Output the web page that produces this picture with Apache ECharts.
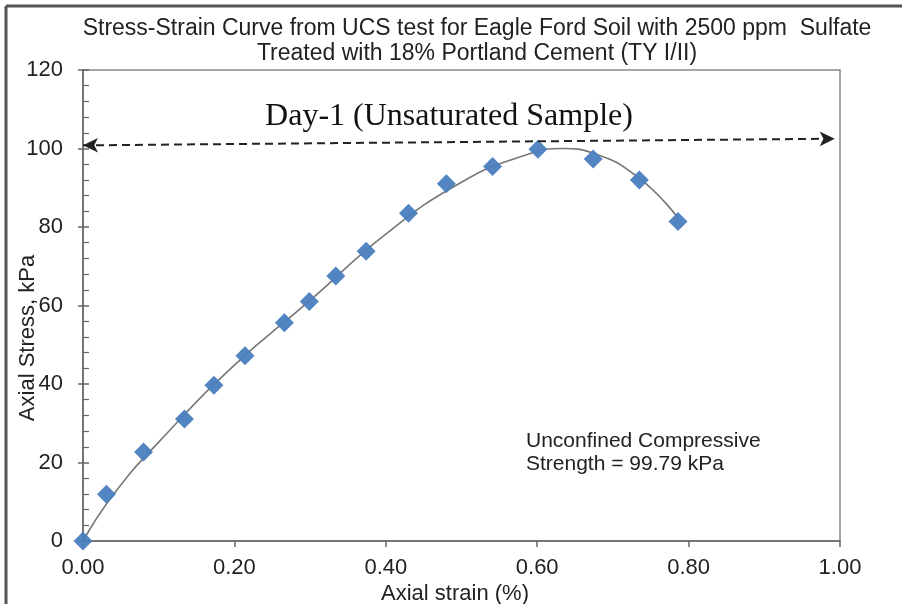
<!DOCTYPE html>
<html>
<head>
<meta charset="utf-8">
<script src="https://cdn.jsdelivr.net/npm/echarts@6/dist/echarts.min.js"></script>
<style>html,body{margin:0;padding:0;background:#fff}#c{width:902px;height:604px}</style>
</head>
<body>
<div id="c"></div>
<script>
// Measured test points (axial strain %, axial stress kPa)
const strain = [0, 0.031, 0.080, 0.134, 0.173, 0.214, 0.266, 0.299, 0.334, 0.374, 0.430, 0.480, 0.541, 0.601, 0.674, 0.735, 0.786];
const stress = [0, 11.9, 22.7, 31.1, 39.7, 47.2, 55.6, 61.0, 67.5, 73.8, 83.5, 91.0, 95.4, 99.79, 97.3, 92.0, 81.4];
// Fitted trend curve
const curveX = [0, 0.04, 0.10, 0.20, 0.30, 0.40, 0.50, 0.58, 0.634, 0.674, 0.735, 0.786];
const curveY = [0, 11.8, 25.2, 44.8, 61.3, 78.2, 91.4, 98.0, 100.0, 98.8, 92.4, 82.3];
// Dashed double arrow (start, end)
const arrowX = [0, 0.993];
const arrowY = [100.8, 102.5];
const xTicks = [0, 0.2, 0.4, 0.6, 0.8, 1.0];
const yTicks = [0, 20, 40, 60, 80, 100, 120];
const titleLines = ['Stress-Strain Curve from UCS test for Eagle Ford Soil with 2500 ppm  Sulfate', 'Treated with 18% Portland Cement (TY I/II)'];
const bannerText = 'Day-1 (Unsaturated Sample)';
const noteLines = ['Unconfined Compressive', 'Strength = 99.79 kPa'];

const chart = echarts.init(document.getElementById('c'));
const font = 'Liberation Sans, Arial, sans-serif';
const yBase = {
  type: 'value', min: yTicks[0], max: yTicks[yTicks.length - 1], interval: 20, position: 'left',
  splitLine: {show: false}
};
chart.setOption({
  animation: false,
  backgroundColor: '#fff',
  title: {
    text: titleLines.join('\n'),
    left: 472, top: 11, textAlign: 'center',
    textStyle: {fontFamily: font, fontSize: 23, fontWeight: 'normal', color: '#222', lineHeight: 25}
  },
  grid: {left: 83, right: 62, top: 70, bottom: 63, show: true, borderColor: '#888', borderWidth: 1.5, backgroundColor: 'transparent'},
  xAxis: {
    type: 'value', min: xTicks[0], max: xTicks[xTicks.length - 1], interval: 0.2,
    axisLine: {lineStyle: {color: '#666', width: 1.5}},
    axisTick: {show: true, inside: false, length: 6, lineStyle: {color: '#666', width: 1.5}},
    splitLine: {show: false},
    axisLabel: {color: '#222', fontFamily: font, fontSize: 22, margin: 16, formatter: v => v.toFixed(2)}
  },
  yAxis: [
    Object.assign({}, yBase, {
      axisLine: {show: true, lineStyle: {color: '#666', width: 1.5}},
      axisTick: {show: true, inside: true, length: 6, lineStyle: {color: '#666', width: 1.5}},
      minorTick: {show: true, splitNumber: 5, length: 6, lineStyle: {color: '#666', width: 1.2}},
      axisLabel: {color: '#222', fontFamily: font, fontSize: 22, margin: 20}
    }),
    Object.assign({}, yBase, {
      axisLine: {show: false},
      axisTick: {show: true, inside: false, length: 5, lineStyle: {color: '#666', width: 1.5}},
      axisLabel: {show: false}
    })
  ],
  graphic: [
    {type: 'line', shape: {x1: 6, y1: 6, x2: 902, y2: 6}, style: {stroke: '#555', lineWidth: 3}},
    {type: 'line', shape: {x1: 6, y1: 6, x2: 6, y2: 604}, style: {stroke: '#555', lineWidth: 3}},
    {type: 'text', x: 449, y: 117, style: {text: bannerText, fontFamily: 'Liberation Serif, Times New Roman, serif', fontSize: 32, fill: '#111', textAlign: 'center', textVerticalAlign: 'middle'}},
    {type: 'text', x: 526, y: 441, style: {text: noteLines[0], fontFamily: font, fontSize: 21, fill: '#222', textAlign: 'left', textVerticalAlign: 'middle'}},
    {type: 'text', x: 526, y: 464, style: {text: noteLines[1], fontFamily: font, fontSize: 21, fill: '#222', textAlign: 'left', textVerticalAlign: 'middle'}},
    {type: 'text', x: 28, y: 338, rotation: Math.PI / 2, style: {text: 'Axial Stress, kPa', fontFamily: font, fontSize: 22, fill: '#222', textAlign: 'center', textVerticalAlign: 'middle'}},
    {type: 'text', x: 455, y: 594, style: {text: 'Axial strain (%)', fontFamily: font, fontSize: 22, fill: '#222', textAlign: 'center', textVerticalAlign: 'middle'}}
  ],
  series: [
    {
      type: 'line', data: curveX.map((x, i) => [x, curveY[i]]), smooth: 0.5, showSymbol: false,
      lineStyle: {color: '#777', width: 1.6}, z: 2, silent: true
    },
    {
      type: 'scatter', data: strain.map((x, i) => [x, stress[i]]), symbol: 'diamond', symbolSize: 19,
      itemStyle: {color: '#4a7ebf', opacity: 0.95}, z: 3,
      markLine: {
        silent: true, symbol: ['arrow', 'arrow'], symbolSize: [11, 15],
        lineStyle: {color: '#222', width: 2, type: [8, 5]}, label: {show: false},
        data: [[{coord: [arrowX[0], arrowY[0]]}, {coord: [arrowX[1], arrowY[1]]}]]
      }
    }
  ]
});
</script>
</body>
</html>
